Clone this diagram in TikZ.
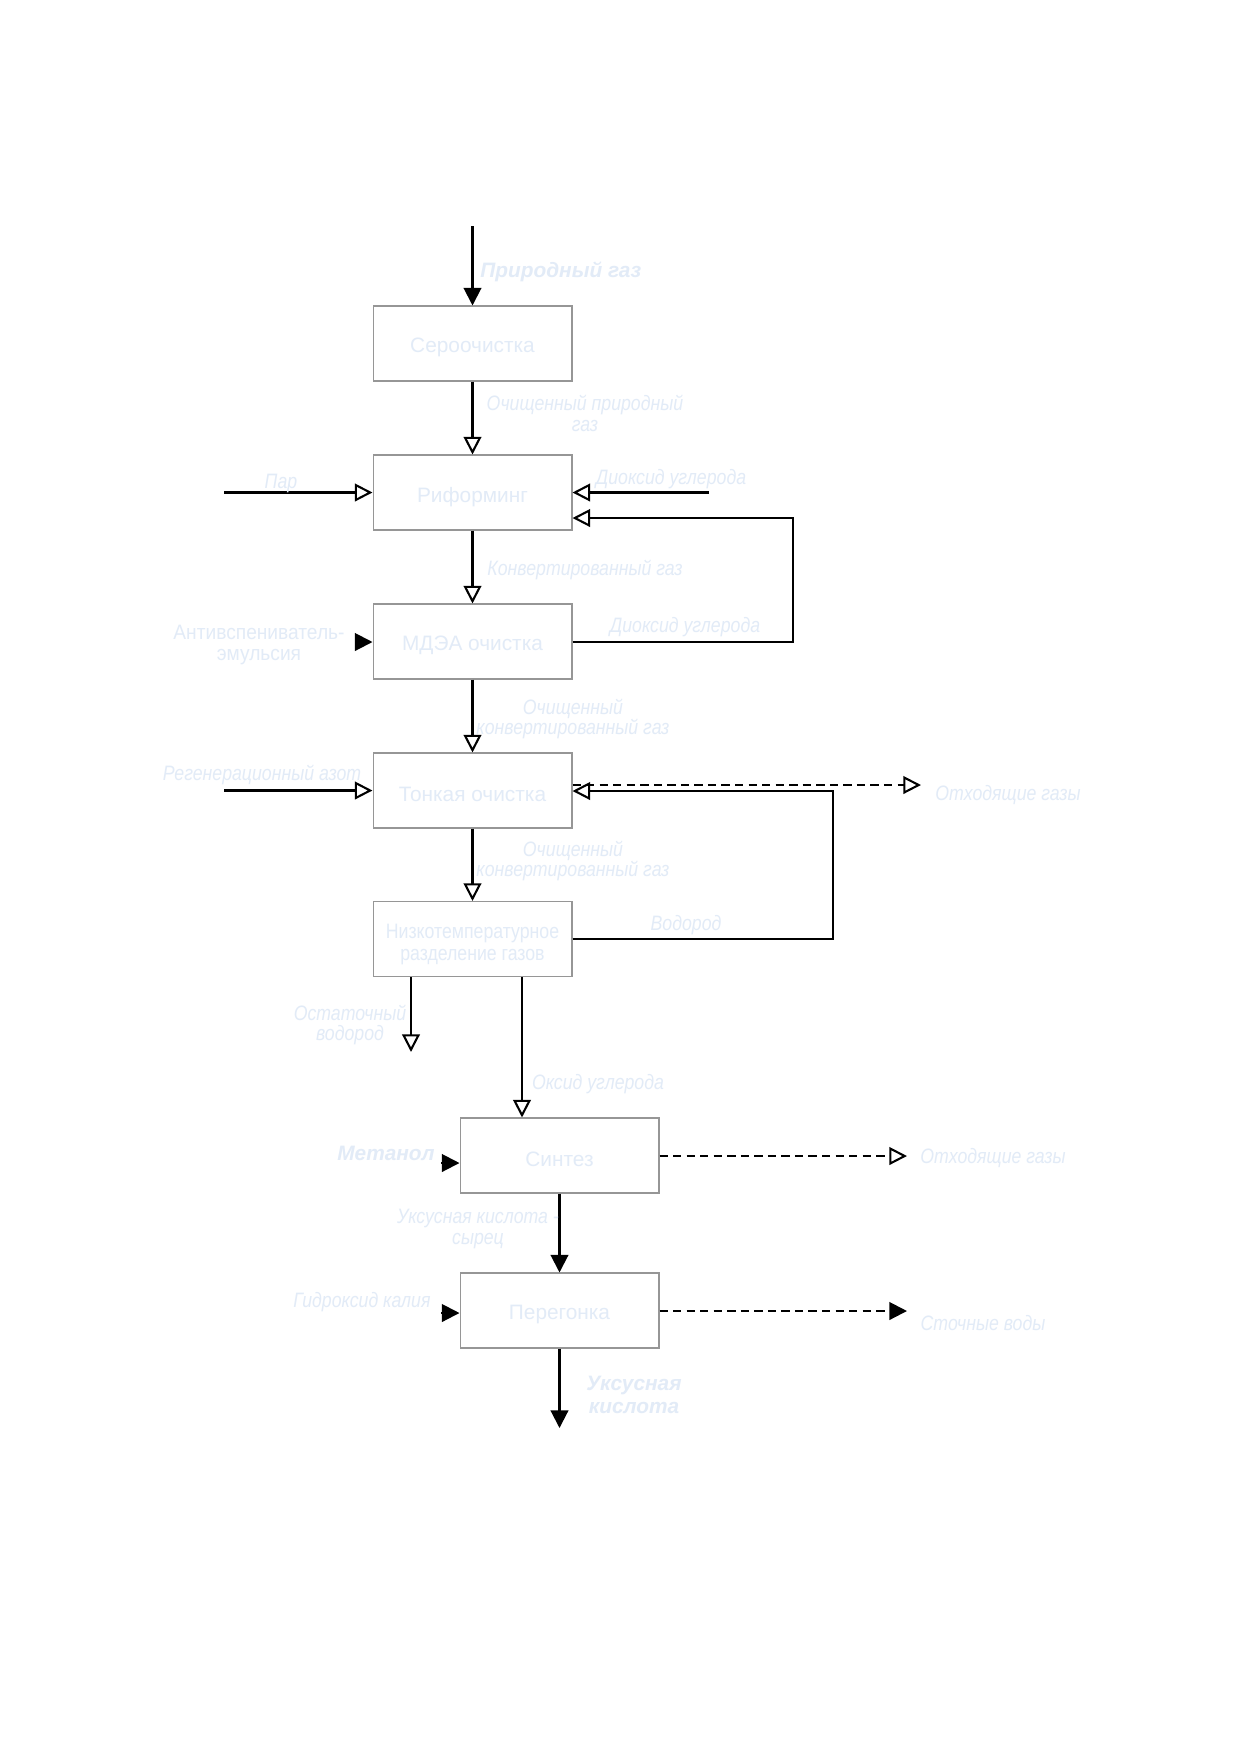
\documentclass[tikz,border=0pt]{standalone}
\usepackage{fontspec}
\setmainfont{Liberation Sans}
\newfontfamily\narrowfont[FakeStretch=0.85]{Liberation Sans}
\newfontfamily\semifont[FakeStretch=0.92]{Liberation Sans}
\usetikzlibrary{arrows.meta}
\definecolor{txtcol}{RGB}{226,235,247}
\definecolor{boxcol}{RGB}{150,150,150}
\newcommand{\lowr}[1]{\raisebox{-2pt}[\height][\depth]{#1}}
\newcommand{\lowrr}[1]{\raisebox{-3pt}[\height][\depth]{#1}}
\tikzset{
  procbox/.style={draw=boxcol, line width=0.5pt, minimum width=95.5pt, minimum height=36pt,
    inner sep=2pt, align=center, text=txtcol, font=\fontsize{10}{12}\selectfont},
  lbl/.style={text=txtcol, align=center, inner sep=0pt, font=\narrowfont\itshape\fontsize{10}{10}\selectfont},
  lblup/.style={text=txtcol, align=center, inner sep=0pt, font=\semifont\fontsize{10}{10}\selectfont},
  lblbold/.style={text=txtcol, align=center, inner sep=0pt, font=\bfseries\itshape\fontsize{10}{11}\selectfont},
  flow/.style={line width=1pt, draw=black},
  ftip/.style={flow, -{Triangle[length=8.5pt,width=8.5pt]}},
  otip/.style={flow, -{Triangle[open,length=8.5pt,width=8.5pt,line width=1pt]}},
  dflow/.style={dash pattern=on 4pt off 2.5pt}
}
\begin{document}
\begin{tikzpicture}[x=0.48pt,y=-0.48pt]
\useasboundingbox (0,0) rectangle (1240,1754);
\fill[white] (0,0) rectangle (1240,1754);

% process boxes
\node[procbox] (ser) at (472.5,343.5) {\lowr{Сероочистка}};
\node[procbox] (rif) at (472.5,492.5) {\lowr{Риформинг}};
\node[procbox] (mdea) at (472.5,641.5) {\lowr{МДЭА очистка}};
\node[procbox] (ton) at (472.5,790.5) {\lowr{Тонкая очистка}};
\node[procbox, font=\narrowfont\fontsize{10}{10.5}\selectfont] (niz) at (472.5,939)
  {\lowrr{\begin{tabular}{@{}c@{}}Низкотемпературное\\разделение газов\end{tabular}}};
\node[procbox] (sin) at (559.5,1155.5) {\lowr{Синтез}};
\node[procbox] (per) at (559.5,1310.5) {\lowr{Перегонка}};

% free ends
\coordinate (gasin) at (472.5,226);
\coordinate (parin) at (224,492.5);
\coordinate (co2in) at (709,492.5);
\coordinate (loop1a) at (793,642);
\coordinate (loop1b) at (793,518);
\coordinate (antin) at (355,642);
\coordinate (azin) at (224,790.5);
\coordinate (offg1) at (921,785);
\coordinate (loop2a) at (833,939);
\coordinate (loop2b) at (833,791);
\coordinate (ostout) at (411,1052);
\coordinate (cox) at (522,977);
\coordinate (metin) at (441,1163);
\coordinate (offg2) at (907,1156);
\coordinate (kohin) at (441,1313);
\coordinate (wwout) at (907,1311);
\coordinate (acout) at (559.5,1428);

% connectors
\draw[ftip] (gasin) -- (ser.north);
\draw[otip] (ser.south) -- (rif.north);
\draw[otip] (parin) -- (rif.west);
\draw[otip] (co2in) -- (rif.east);
\draw[otip] (mdea.east |- loop1a) -- (loop1a) -- (loop1b) -- (rif.east |- loop1b);
\draw[otip] (rif.south) -- (mdea.north);
\draw[ftip] (antin) -- (antin -| mdea.west);
\draw[otip] (mdea.south) -- (ton.north);
\draw[otip] (azin) -- (ton.west);
\draw[otip, dflow] (ton.east |- offg1) -- (offg1);
\draw[otip] (niz.east |- loop2a) -- (loop2a) -- (loop2b) -- (ton.east |- loop2b);
\draw[otip] (ton.south) -- (niz.north);
\draw[otip] (ostout |- niz.south) -- (ostout);
\draw[otip] (cox) -- (cox |- sin.north);
\draw[ftip] (metin) -- (metin -| sin.west);
\draw[otip, dflow] (sin.east |- offg2) -- (offg2);
\draw[ftip] (sin.south) -- (per.north);
\draw[ftip] (kohin) -- (kohin -| per.west);
\draw[ftip, dflow] (per.east |- wwout) -- (wwout);
\draw[ftip] (per.south) -- (acout);

% labels
\node[lblbold, anchor=west] (lgas) at (480,272) {Природный газ};
\node[lbl] (lclean1) at (585,413) {Очищенный природный\\газ};
\node[lbl] (lpar) at (281,483) {Пар};
\node[lbl] (lco2a) at (671,479) {Диоксид углерода};
\node[lbl] (lconv) at (585,570) {Конвертированный газ};
\node[lbl] (lco2b) at (685,627) {Диоксид углерода};
\node[lblup] (lant) at (259,645) {Антивспениватель-\\эмульсия};
\node[lbl] (lclean2) at (573,719) {Очищенный\\конвертированный газ};
\node[lbl] (laz) at (262,775) {Регенерационный азот};
\node[lbl] (loff1) at (1008,795) {Отходящие газы};
\node[lbl] (lclean3) at (573,861) {Очищенный\\конвертированный газ};
\node[lbl] (lh2) at (686,925) {Водород};
\node[lbl] (lost) at (350,1025) {Остаточный\\водород};
\node[lbl] (lcox) at (598,1084) {Оксид углерода};
\node[lblbold] (lmet) at (386,1153) {Метанол};
\node[lbl] (loff2) at (993,1158) {Отходящие газы};
\node[lbl] (lraw) at (478,1229) {Уксусная кислота -\\сырец};
\node[lbl] (lkoh) at (362,1302) {Гидроксид калия};
\node[lbl] (lww) at (983,1323) {Сточные воды};
\node[lblbold] (lac) at (634,1395) {Уксусная\\кислота};
\end{tikzpicture}
\end{document}
